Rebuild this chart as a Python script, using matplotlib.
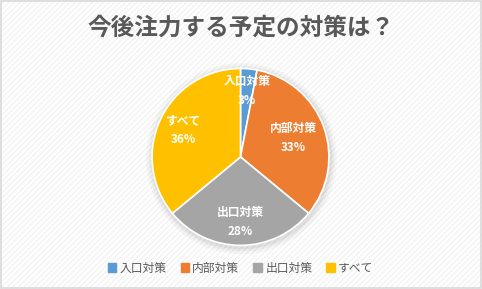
import numpy as np
import matplotlib.pyplot as plt
from matplotlib.patches import Rectangle, Circle

plt.rcParams['font.family'] = ['Noto Sans CJK JP', 'DejaVu Sans']

title = '今後注力する予定の対策は？'
labels = ['入口対策', '内部対策', '出口対策', 'すべて']
values = [3, 33, 28, 36]
colors = ['#5B9BD5', '#ED7D31', '#A5A5A5', '#FFC000']
label_dist = [0.75, 0.63, 0.74, 0.71]

fig = plt.figure(figsize=(4.82, 2.89), dpi=100)

# background with faint diagonal stripes and border
bg = Rectangle((0, 0), 1, 1, transform=fig.transFigure, facecolor='white',
               edgecolor='#f3f3f3', hatch='//////', linewidth=0, zorder=-10)
fig.patches.append(bg)
border = Rectangle((0.002, 0.003), 0.996, 0.994, transform=fig.transFigure,
                   facecolor='none', edgecolor='#d9d9d9', linewidth=1.2, zorder=10)
fig.patches.append(border)

fig.text(0.499, 0.905, title, ha='center', va='center', fontsize=17,
         fontweight='bold', color='#595959')

ax = fig.add_axes([0.499 - 0.1836 * 1.15, 0.457 - 0.306 * 1.15,
                   0.3672 * 1.15, 0.612 * 1.15])

# soft shadow around pie
for r, a in [(1.08, 0.03), (1.05, 0.04), (1.025, 0.05)]:
    ax.add_patch(Circle((0.01, -0.02), r, color='#000000', alpha=a, lw=0, zorder=0))

wedges, _ = ax.pie(values, colors=colors, startangle=90, counterclock=False,
                   radius=1, wedgeprops=dict(edgecolor='white', linewidth=1.2))
ax.set_xlim(-1.15, 1.15)
ax.set_ylim(-1.15, 1.15)
ax.set_aspect('equal')
ax.axis('off')

total = sum(values)
for w, lab, v, d in zip(wedges, labels, values, label_dist):
    ang = np.deg2rad((w.theta1 + w.theta2) / 2)
    x, y = d * np.cos(ang), d * np.sin(ang)
    ax.text(x, y, f'{lab}\n{round(v / total * 100)}%', ha='center', va='center',
            fontsize=8.5, fontweight='bold', color='white', linespacing=1.6)

handles = [Rectangle((0, 0), 1, 1, color=c) for c in colors]
fig.legend(handles, labels, loc='center', bbox_to_anchor=(0.499, 0.072), ncol=4,
           frameon=False, fontsize=8.5, labelcolor='#595959', handlelength=0.7,
           handleheight=0.7, handletextpad=0.3, columnspacing=1.2)

fig.savefig('out.png', dpi=100)
